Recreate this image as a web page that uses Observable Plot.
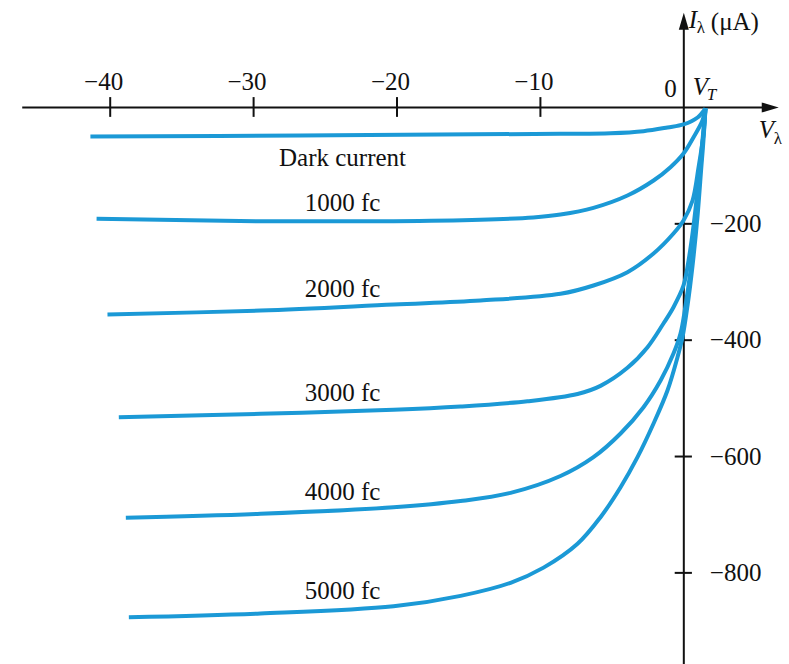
<!DOCTYPE html>
<html>
<head>
<meta charset="utf-8">
<script src="https://cdn.jsdelivr.net/npm/d3@7"></script>
<script src="https://cdn.jsdelivr.net/npm/@observablehq/plot@0.6"></script>
<style>
  html, body { margin: 0; padding: 0; background: #fff; }
</style>
</head>
<body>
<div id="chart"></div>
<script>
// ---- data (V in volts, I in µA) ----
const seriesNames = ["Dark current", "1000 fc", "2000 fc", "3000 fc", "4000 fc", "5000 fc"];

const darkV = [-41.38, -26.76, -8.63, -5.11, -2.81, -1.14, -0.02, 0.96, 1.51];
const darkI = [-49.9, -48.1, -45.2, -44.2, -40.7, -34.4, -29.2, -17.2, -1.7];

const fc1000V = [-40.95, -29.52, -20.24, -14.18, -10.5, -8.60, -6.30, -3.93, -2.11, -0.93, -0.02, 0.68, 1.30, 1.51];
const fc1000I = [-191.3, -195.5, -195.5, -193.0, -189.0, -184.0, -172.5, -151.3, -125.5, -102.6, -79.1, -51.1, -22.3, -1.7];

const fc2000V = [-40.19, -29.52, -20.24, -14.18, -8.60, -6.30, -3.93, -2.11, -0.72, -0.02, 0.61, 1.03, 1.38, 1.51];
const fc2000I = [-355.8, -349.0, -338.6, -331.8, -320.3, -306.0, -283.1, -251.0, -216.6, -194.2, -159.9, -102.6, -44.7, -1.7];

const fc3000V = [-39.40, -29.52, -20.24, -15.57, -10.90, -7.41, -5.81, -3.93, -2.53, -1.42, -0.72, -0.02, 0.33, 0.68, 1.03, 1.30, 1.51];
const fc3000I = [-532.4, -526.5, -519.7, -514.0, -505.0, -492.5, -478.5, -447.5, -412.0, -371.3, -343.3, -306.0, -263.0, -202.8, -125.5, -56.7, -1.7];

const fc4000V = [-38.91, -29.52, -20.24, -15.57, -12.08, -8.60, -6.30, -4.41, -2.81, -1.62, -0.72, -0.23, 0.12, 0.47, 0.82, 1.09, 1.30, 1.51];
const fc4000I = [-705.3, -698.4, -687.1, -676.5, -662.5, -633.5, -601.1, -560.4, -515.2, -469.3, -422.9, -388.5, -340.4, -280.2, -202.8, -125.5, -65.3, -1.7];

const fc5000V = [-38.70, -29.52, -20.24, -15.57, -12.08, -9.78, -7.41, -5.81, -4.41, -3.23, -2.11, -1.14, -0.44, -0.09, 0.26, 0.61, 0.96, 1.23, 1.37, 1.51];
const fc5000I = [-876.2, -869.8, -857.5, -839.5, -817.0, -791.0, -750.0, -704.3, -652.7, -601.1, -543.2, -486.5, -429.2, -394.8, -340.4, -271.6, -185.7, -99.7, -56.7, -1.7];

const xTicks = [-40, -30, -20, -10];
const yTicks = [-200, -400, -600, -800];

// ---- build table ----
const seriesV = [darkV, fc1000V, fc2000V, fc3000V, fc4000V, fc5000V];
const seriesI = [darkI, fc1000I, fc2000I, fc3000I, fc4000I, fc5000I];
const rows = [];
seriesNames.forEach((name, k) => {
  seriesV[k].forEach((v, j) => rows.push({series: name, V: v, I: seriesI[k][j]}));
});

// label placement: on each curve at a fixed voltage
const labelV = -23.8;
function interp(vs, is, v) {
  for (let j = 0; j < vs.length - 1; j++) {
    if (v >= vs[j] && v <= vs[j + 1]) {
      const t = (v - vs[j]) / (vs[j + 1] - vs[j]);
      return is[j] + t * (is[j + 1] - is[j]);
    }
  }
  return is[0];
}
const labelRows = seriesNames.map((name, k) => ({name, V: labelV, I: interp(seriesV[k], seriesI[k], labelV)}));

const minus = d => String(d).replace("-", "\u2212");

// domain chosen so 0 V / 0 µA sit at the picture's axis crossing
const xDomain = [-47.65, 7.37];
const yDomain = [-957.5, 183.9];
const xAxisEnd = 6.62, xAxisStart = -46.1;
const yAxisTop = 163;

const arrowSym = {
  draw(ctx) {
    ctx.moveTo(0, 0);
    ctx.lineTo(5, 17);
    ctx.lineTo(-5, 17);
    ctx.closePath();
  }
};

const blue = "#1b99d6";
const serif = "Liberation Serif";

const chart = Plot.plot({
  width: 789,
  height: 664,
  margin: 0,
  x: {domain: xDomain, axis: null},
  y: {domain: yDomain, axis: null},
  style: {fontFamily: serif, fontSize: "25px", background: "#fff", color: "#111"},
  marks: [
    // axes
    Plot.ruleY([0], {x1: xAxisStart, x2: xAxisEnd - 0.6, stroke: "#111", strokeWidth: 2}),
    Plot.ruleX([0], {y1: yDomain[0], y2: yAxisTop - 20, stroke: "#111", strokeWidth: 2}),
    Plot.dot([{x: xAxisEnd, y: 0, r: 90}, {x: 0, y: yAxisTop, r: 0}], {x: "x", y: "y", rotate: "r", symbol: arrowSym, fill: "#111", stroke: null}),
    Plot.ruleX(xTicks, {x: d => d, y1: -17, y2: 17, stroke: "#111", strokeWidth: 2}),
    Plot.ruleY(yTicks, {y: d => d, x1: -0.6, x2: 0.6, stroke: "#111", strokeWidth: 2}),
    // curves
    Plot.line(rows, {x: "V", y: "I", z: "series", stroke: blue, strokeWidth: 4, curve: "catmull-rom", strokeLinecap: "butt", strokeLinejoin: "round"}),
    // tick labels
    Plot.text(xTicks, {x: d => d, y: 0, text: minus, textAnchor: "end", dx: 13, dy: -17, lineAnchor: "bottom", fill: "#111"}),
    Plot.text(yTicks, {x: 0, y: d => d, text: minus, textAnchor: "start", dx: 26, lineAnchor: "middle", fill: "#111"}),
    Plot.text(["0"], {x: 0, y: 0, text: d => d, textAnchor: "end", dx: -7, dy: -10, lineAnchor: "bottom", fill: "#111"}),
    // axis titles
    Plot.text(["V"], {x: 0, y: 0, text: d => d, textAnchor: "start", dx: 9, dy: -12, lineAnchor: "bottom", fontStyle: "italic", fill: "#111"}),
    Plot.text(["T"], {x: 0, y: 0, text: d => d, textAnchor: "start", dx: 23, dy: -7, lineAnchor: "bottom", fontStyle: "italic", fontSize: 17, fill: "#111"}),
    Plot.text(["I"], {x: 0, y: 0, text: d => d, textAnchor: "start", dx: 5, dy: -79, lineAnchor: "bottom", fontStyle: "italic", fill: "#111"}),
    Plot.text(["\u03bb"], {x: 0, y: 0, text: d => d, textAnchor: "start", dx: 13, dy: -74, lineAnchor: "bottom", fontSize: 17, fill: "#111"}),
    Plot.text(["(\u03bcA)"], {x: 0, y: 0, text: d => d, textAnchor: "start", dx: 27, dy: -77, lineAnchor: "bottom", fill: "#111"}),
    Plot.text(["V"], {x: xAxisEnd, y: 0, text: d => d, textAnchor: "start", dx: -20, dy: 31, lineAnchor: "bottom", fontStyle: "italic", fill: "#111"}),
    Plot.text(["\u03bb"], {x: xAxisEnd, y: 0, text: d => d, textAnchor: "start", dx: -5, dy: 37, lineAnchor: "bottom", fontSize: 17, fill: "#111"}),
    // curve labels
    Plot.text(labelRows.slice(0, 1), {x: "V", y: "I", text: "name", textAnchor: "middle", dy: 31, lineAnchor: "bottom", fill: "#111"}),
    Plot.text(labelRows.slice(1), {x: "V", y: "I", text: "name", textAnchor: "middle", dy: -10, lineAnchor: "bottom", fill: "#111"})
  ]
});
document.getElementById("chart").appendChild(chart);
</script>
</body>
</html>
